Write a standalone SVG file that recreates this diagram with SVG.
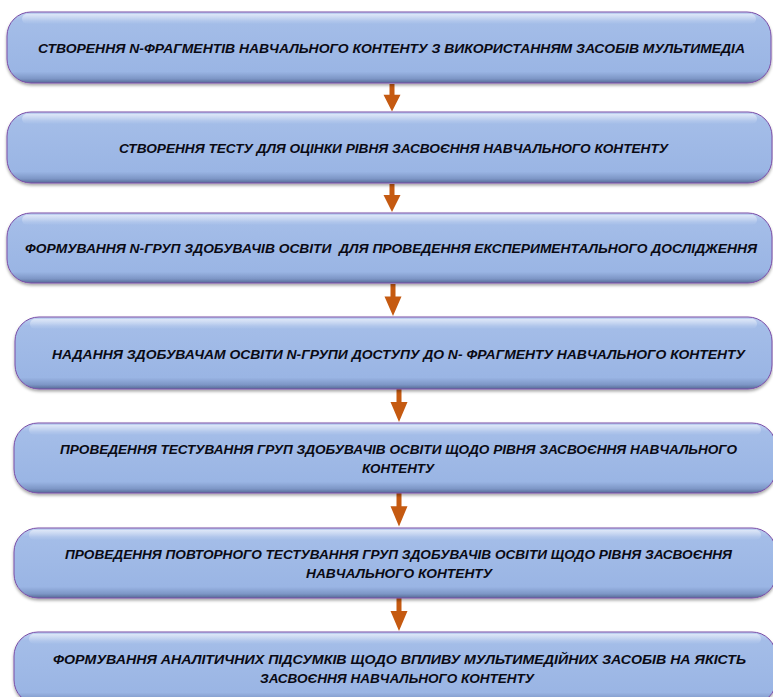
<svg xmlns="http://www.w3.org/2000/svg" width="773" height="697" viewBox="0 0 773 697">
<style>
.box{fill:url(#fillG);stroke:#7b4ea8;stroke-width:1;filter:url(#sh)}
.hl{fill:url(#hlG);stroke:none}
.t{font-family:"Liberation Sans",Arial,sans-serif;font-size:13.5px;font-weight:bold;font-style:italic;fill:#0a0a14;text-anchor:middle}
.ar{fill:#c55a11}
</style>
<defs>
<linearGradient id="fillG" x1="0" y1="0" x2="0" y2="1">
<stop offset="0" stop-color="#c2d3f2"/>
<stop offset="0.12" stop-color="#a4bde8"/>
<stop offset="0.84" stop-color="#9ab5e4"/>
<stop offset="0.94" stop-color="#7d96c6"/>
<stop offset="1" stop-color="#566a95"/>
</linearGradient>
<linearGradient id="hlG" x1="0" y1="0" x2="0" y2="1">
<stop offset="0" stop-color="#ffffff" stop-opacity="0.5"/>
<stop offset="1" stop-color="#ffffff" stop-opacity="0"/>
</linearGradient>
<filter id="sh" x="-5%" y="-20%" width="110%" height="150%">
<feDropShadow dx="0" dy="2" stdDeviation="1.5" flood-color="#000" flood-opacity="0.35"/>
</filter>
<path id="arrow" d="M-2.5 0 H2.5 V11 H8.5 L0 28 L-8.5 11 H-2.5 Z"/>
</defs>

<g id="connectors">
<use href="#arrow" class="ar" transform="translate(392,84) scale(1,0.98)"/>
<use href="#arrow" class="ar" transform="translate(392,184) scale(1,1.0)"/>
<use href="#arrow" class="ar" transform="translate(393,284) scale(1,1.14)"/>
<use href="#arrow" class="ar" transform="translate(399,389) scale(1,1.18)"/>
<use href="#arrow" class="ar" transform="translate(399,493) scale(1,1.2)"/>
<use href="#arrow" class="ar" transform="translate(399,598) scale(1,1.18)"/>
</g>

<g id="node1">
<rect class="box" x="7" y="12" width="764" height="71" rx="24"/>
<rect class="hl" x="22" y="14" width="734" height="10" rx="5"/>
<text class="t" x="391.5" y="53" textLength="707" lengthAdjust="spacingAndGlyphs">СТВОРЕННЯ N-ФРАГМЕНТІВ НАВЧАЛЬНОГО КОНТЕНТУ З ВИКОРИСТАННЯМ ЗАСОБІВ МУЛЬТИМЕДІА</text>
</g>

<g id="node2">
<rect class="box" x="7" y="112" width="765" height="71" rx="24"/>
<rect class="hl" x="22" y="114" width="735" height="10" rx="5"/>
<text class="t" x="393.5" y="152.5" textLength="549" lengthAdjust="spacingAndGlyphs">СТВОРЕННЯ ТЕСТУ ДЛЯ ОЦІНКИ РІВНЯ ЗАСВОЄННЯ НАВЧАЛЬНОГО КОНТЕНТУ</text>
</g>

<g id="node3">
<rect class="box" x="7" y="213" width="765" height="70" rx="24"/>
<rect class="hl" x="22" y="215" width="735" height="10" rx="5"/>
<text class="t" x="391" y="252.5" textLength="732" lengthAdjust="spacingAndGlyphs" xml:space="preserve">ФОРМУВАННЯ N-ГРУП ЗДОБУВАЧІВ ОСВІТИ  ДЛЯ ПРОВЕДЕННЯ ЕКСПЕРИМЕНТАЛЬНОГО ДОСЛІДЖЕННЯ</text>
</g>

<g id="node4">
<rect class="box" x="15" y="317" width="757" height="72" rx="24"/>
<rect class="hl" x="30" y="319" width="727" height="10" rx="5"/>
<text class="t" x="398.5" y="358.5" textLength="693" lengthAdjust="spacingAndGlyphs">НАДАННЯ ЗДОБУВАЧАМ ОСВІТИ N-ГРУПИ ДОСТУПУ ДО N- ФРАГМЕНТУ НАВЧАЛЬНОГО КОНТЕНТУ</text>
</g>

<g id="node5">
<rect class="box" x="14" y="423" width="762" height="70" rx="24"/>
<rect class="hl" x="29" y="425" width="732" height="10" rx="5"/>
<text class="t" x="398.5" y="454" textLength="677" lengthAdjust="spacingAndGlyphs">ПРОВЕДЕННЯ ТЕСТУВАННЯ ГРУП ЗДОБУВАЧІВ ОСВІТИ ЩОДО РІВНЯ ЗАСВОЄННЯ НАВЧАЛЬНОГО</text>
<text class="t" x="398" y="473" textLength="72" lengthAdjust="spacingAndGlyphs">КОНТЕНТУ</text>
</g>

<g id="node6">
<rect class="box" x="14" y="528" width="762" height="70" rx="24"/>
<rect class="hl" x="29" y="530" width="732" height="10" rx="5"/>
<text class="t" x="398.5" y="559" textLength="667" lengthAdjust="spacingAndGlyphs">ПРОВЕДЕННЯ ПОВТОРНОГО ТЕСТУВАННЯ ГРУП ЗДОБУВАЧІВ ОСВІТИ ЩОДО РІВНЯ ЗАСВОЄННЯ</text>
<text class="t" x="399" y="578" textLength="186" lengthAdjust="spacingAndGlyphs">НАВЧАЛЬНОГО КОНТЕНТУ</text>
</g>

<g id="node7">
<rect class="box" x="14" y="632" width="762" height="72" rx="24"/>
<rect class="hl" x="29" y="634" width="732" height="10" rx="5"/>
<text class="t" x="399.5" y="664" textLength="693" lengthAdjust="spacingAndGlyphs">ФОРМУВАННЯ АНАЛІТИЧНИХ ПІДСУМКІВ ЩОДО ВПЛИВУ МУЛЬТИМЕДІЙНИХ ЗАСОБІВ НА ЯКІСТЬ</text>
<text class="t" x="397" y="683" textLength="274" lengthAdjust="spacingAndGlyphs">ЗАСВОЄННЯ НАВЧАЛЬНОГО КОНТЕНТУ</text>
</g>
</svg>
